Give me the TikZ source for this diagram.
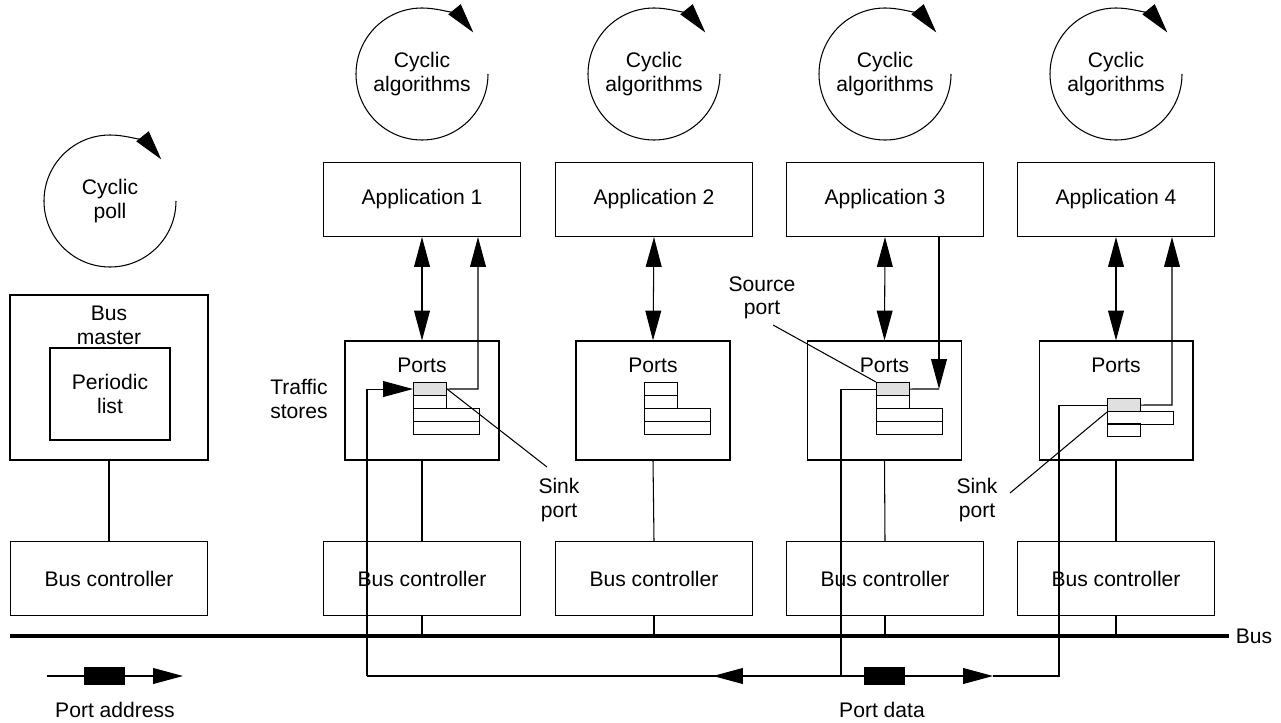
\documentclass[tikz,border=0pt]{standalone}
\usepackage{fontspec}
\setmainfont{Liberation Sans}
\usetikzlibrary{arrows.meta, positioning}

\begin{document}
\begin{tikzpicture}[
    x=0.02cm, y=-0.02cm,
    line width=0.6pt,
    every node/.style={font=\fontsize{12}{13.4}\selectfont, align=center},
    box/.style={draw, minimum width=3.94cm, minimum height=1.48cm, inner sep=0pt},
    portbox/.style={draw, minimum width=3.08cm, minimum height=2.38cm, inner sep=0pt},
    cell/.style={draw, anchor=north west, minimum width=0.66cm, minimum height=0.26cm, inner sep=0pt},
    wcell/.style={cell, minimum width=1.32cm, minimum height=0.25cm},
    sel/.style={fill=black!12},
    pkt/.style={fill=black, minimum width=0.82cm, minimum height=0.36cm, inner sep=0pt},
    arr/.style={-{Triangle[length=17pt, width=9pt]}},
    darr/.style={{Triangle[length=17pt, width=9pt]}-{Triangle[length=17pt, width=9pt]}},
    bus/.style={line width=2.3pt}
]
    \useasboundingbox (0,0) rectangle (1281,723);

    % cycles
    \node (poll) at (110,201) {Cyclic\\poll};
    \node (cyc1) at (422,74) {Cyclic\\algorithms};
    \node (cyc2) at (654,74) {Cyclic\\algorithms};
    \node (cyc3) at (885,74) {Cyclic\\algorithms};
    \node (cyc4) at (1116,74) {Cyclic\\algorithms};
    \draw[arr] (poll.center) ++(66,0) arc[start angle=0, end angle=321, radius=66];
    \draw[arr] (cyc1.center) ++(66,0) arc[start angle=0, end angle=321, radius=66];
    \draw[arr] (cyc2.center) ++(66,0) arc[start angle=0, end angle=321, radius=66];
    \draw[arr] (cyc3.center) ++(66,0) arc[start angle=0, end angle=321, radius=66];
    \draw[arr] (cyc4.center) ++(66,0) arc[start angle=0, end angle=321, radius=66];

    % applications
    \node[box] (app1) at (422,199.5) {Application 1};
    \node[box] (app2) at (654,199.5) {Application 2};
    \node[box] (app3) at (885,199.5) {Application 3};
    \node[box] (app4) at (1116,199.5) {Application 4};

    % bus master
    \node[draw, minimum width=3.96cm, minimum height=3.3cm] (master) at (109,377.5) {};
    \node[anchor=north] (mtxt) at ([yshift=-3pt]master.north) {Bus\\master};
    \node[draw, minimum width=2.4cm, minimum height=1.84cm] (plist) at (110,394) {Periodic\\list};

    % ports
    \node[portbox] (ports1) at (422,400.5) {};
    \node[portbox] (ports2) at (653,400.5) {};
    \node[portbox] (ports3) at (884.5,400.5) {};
    \node[portbox] (ports4) at (1116,400.5) {};
    \node (pt1) at (422,365) {Ports};
    \node (pt2) at (653,365) {Ports};
    \node (pt3) at (884.5,365) {Ports};
    \node (pt4) at (1116,365) {Ports};

    % traffic stores
    \node[cell, sel] (g1) at (413,382) {};
    \node[cell] (c1b) at (413,395) {};
    \node[wcell] (c1c) at (413,408) {};
    \node[wcell] (c1d) at (413,421) {};
    \node[cell] (c2a) at (644,382) {};
    \node[cell] (c2b) at (644,395) {};
    \node[wcell] (c2c) at (644,408) {};
    \node[wcell] (c2d) at (644,421) {};
    \node[cell, sel] (g3) at (876,382) {};
    \node[cell] (c3b) at (876,395) {};
    \node[wcell] (c3c) at (876,408) {};
    \node[wcell] (c3d) at (876,421) {};
    \node[cell, sel] (g4) at (1107,398) {};
    \node[wcell] (c4b) at (1107,411) {};
    \node[cell] (c4c) at (1107,423) {};

    % bus controllers
    \node[box] (bc0) at (109,578.5) {Bus controller};
    \node[box] (bc1) at (422,578.5) {Bus controller};
    \node[box] (bc2) at (654,578.5) {Bus controller};
    \node[box] (bc3) at (885,578.5) {Bus controller};
    \node[box] (bc4) at (1116,578.5) {Bus controller};

    % bus
    \coordinate (busL) at (10,636);
    \node (buslbl) at (1254,636) {Bus};
    \draw[bus] (busL) -- (buslbl.west);

    \draw (master.south) -- (bc0.north);
    \foreach \i in {1,...,4} {
        \draw[darr] (app\i.south) -- (ports\i.north);
        \draw (ports\i.south) -- (bc\i.north);
        \draw (bc\i.south) -- (bc\i.south |- busL);
    }

    % port data paths
    \coordinate (u1) at (478,389);
    \coordinate (d3) at (939,389);
    \coordinate (u4) at (1172,405);
    \coordinate (pdL) at (367,676);
    \coordinate (pdS) at (841,676);
    \coordinate (pdR) at (1059,676);
    \coordinate (tipL) at (713,676);
    \coordinate (tipR) at (993,676);
    \draw[arr] (g1.east) -- (u1) -- (app1.south -| u1);
    \draw[arr] (app3.south -| d3) -- (d3);
    \draw (d3) -- (g3.east);
    \draw (g3.west) -| (pdS);
    \draw[arr] (g4.east) -- (u4) -- (app4.south -| u4);
    \draw (pdS) -- (pdL);
    \draw[arr] (pdS) -- (tipL);
    \draw[arr] (pdL) |- (g1.west);
    \draw[arr] (pdS) -- (tipR);
    \draw (tipR) -- (pdR) |- (g4.west);
    \node[pkt] (datapkt) at (884.5,676) {};
    \node (pdlbl) at (882,710) {Port data};

    % port address legend
    \coordinate (pa0) at (47,676);
    \coordinate (pa1) at (183,676);
    \draw[arr] (pa0) -- (pa1);
    \node[pkt] (addrpkt) at (104.5,676) {};
    \node (palbl) at (115,710) {Port address};

    % labels
    \node (traffic) at (299,399) {Traffic\\stores};
    \node (sink1) at (559,500) {Sink\\port};
    \node (src3) at (762,298) {Source\\port};
    \node (sink4) at (977,500) {Sink\\port};
    \coordinate (s1) at (547,467);
    \coordinate (s3) at (773,325);
    \coordinate (s4) at (1010,493);
    \draw (g1.east) -- (s1);
    \draw (s3) -- (g3.north west);
    \draw (s4) -- (g4.south west);
\end{tikzpicture}
\end{document}
